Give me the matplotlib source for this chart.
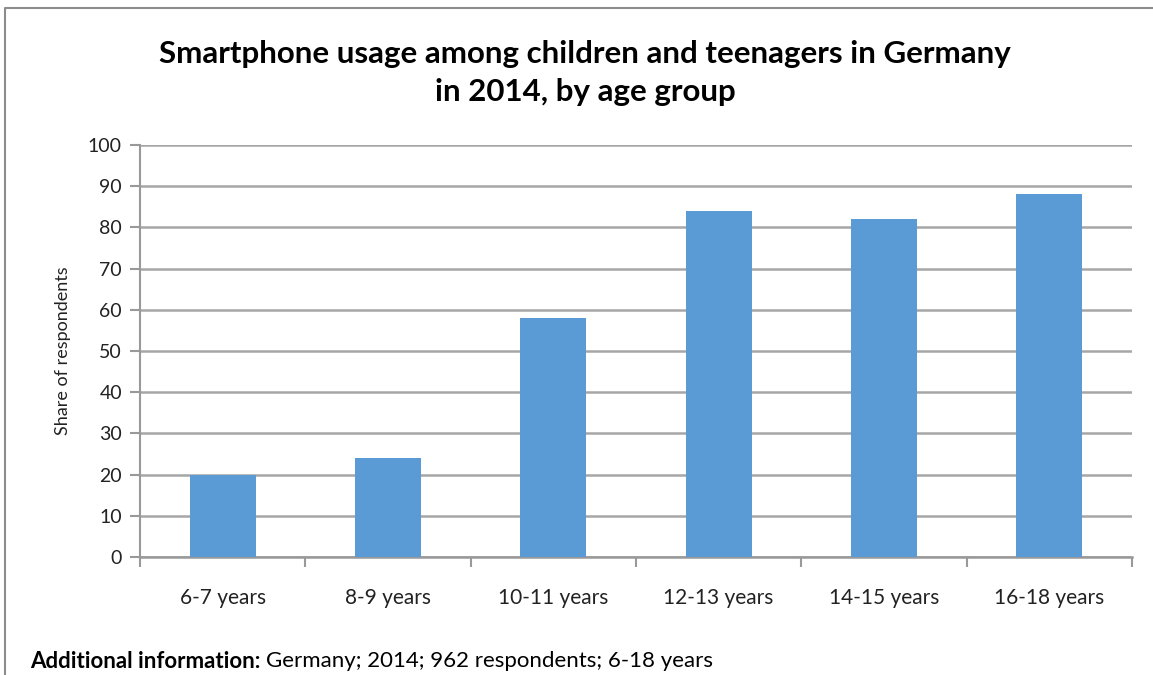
import matplotlib
matplotlib.use('Agg')
import matplotlib.pyplot as plt
from matplotlib.lines import Line2D

# data
age_groups = ['6-7 years', '8-9 years', '10-11 years', '12-13 years', '14-15 years', '16-18 years']
share = [20, 24, 58, 84, 82, 88]
yticks = list(range(0, 101, 10))

title = 'Smartphone usage among children and teenagers in Germany\nin 2014, by age group'
footer_bold = 'Additional information:'
footer_text = 'Germany; 2014; 962 respondents; 6-18 years'

plt.rcParams['font.family'] = ['Lato', 'DejaVu Sans']

fig = plt.figure(figsize=(11.53, 6.75), dpi=100)
ax = fig.add_axes([140 / 1153, 1 - 557 / 675, 992 / 1153, 412 / 675])

x = range(len(age_groups))
ax.bar(x, share, width=0.4, color='#5b9bd5', zorder=3)

ax.set_xlim(-0.5, len(age_groups) - 0.5)
ax.set_ylim(0, 100)
ax.set_yticks(yticks)
ax.set_yticklabels([str(v) for v in yticks], fontsize=14, color='#222222')
ax.set_xticks(list(x))
ax.set_xticklabels(age_groups, fontsize=15, color='#222222')
ax.tick_params(axis='x', length=0, pad=22)
ax.tick_params(axis='y', length=7, width=1.5, color='#999999', pad=6)

# category separators on the x axis
ax.set_xticks([i - 0.5 for i in range(len(age_groups) + 1)], minor=True)
ax.tick_params(axis='x', which='minor', length=7, width=1.5, color='#999999', direction='out')

ax.grid(axis='y', color='#a6a6a6', linewidth=1.8, zorder=0)
for s in ['top', 'right']:
    ax.spines[s].set_visible(False)
ax.spines['left'].set_color('#999999')
ax.spines['left'].set_linewidth(1.5)
ax.spines['bottom'].set_color('#999999')
ax.spines['bottom'].set_linewidth(1.8)

ax.set_ylabel('Share of respondents', fontsize=13, color='#222222', labelpad=12)

fig.text(585 / 1153, 1 - 73 / 675, title, ha='center', va='center', fontsize=22.5,
         fontweight='bold', linespacing=1.4)

t = fig.text(30 / 1153, 1 - 661 / 675, footer_bold + ' ', ha='left', va='center',
             fontsize=16, fontweight='bold')
fig.canvas.draw()
bb = t.get_window_extent()
fig.text(bb.x1 / 1153, 1 - 661 / 675, footer_text, ha='left', va='center', fontsize=16)

# frame on the left and top of the picture only
fx, fy = 5 / 1153, 1 - 8 / 675
fig.add_artist(Line2D([fx, fx, 1], [0, fy, fy], transform=fig.transFigure,
                      color='#8c8c8c', linewidth=1.5))

fig.savefig('out.png', dpi=100)
